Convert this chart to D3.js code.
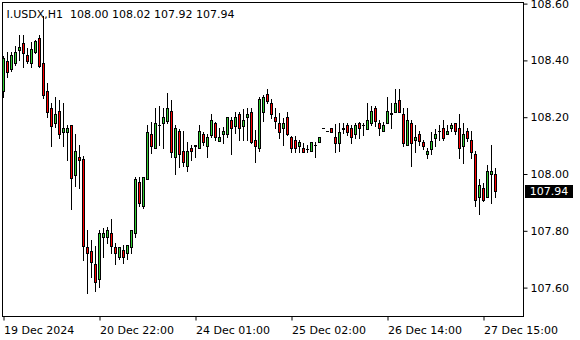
<!DOCTYPE html>
<html>
<head>
<meta charset="utf-8">
<script src="https://cdn.jsdelivr.net/npm/d3@7"></script>
<style>
  body { margin: 0; background: #fff; }
  svg { display: block; font-family: "DejaVu Sans", sans-serif; font-size: 11px; }
</style>
</head>
<body>
<svg id="chart" width="580" height="340"></svg>
<script>
// I.USDX H1, one value per bar (oldest first)
const titulo = "I.USDX,H1";
const abertura = [
  108.292,108.398,108.370,108.391,108.437,108.461,108.419,108.391,108.430,108.479,
  108.391,108.292,108.232,108.180,108.222,108.149,108.149,108.173,107.996,108.060,
  108.053,107.743,107.729,107.683,107.630,107.779,107.779,107.792,107.743,107.709,
  107.732,107.722,107.743,107.792,107.972,107.888,107.982,108.141,108.092,108.171,
  108.180,108.187,108.222,108.060,108.151,108.081,108.029,108.092,108.101,108.092,
  108.141,108.099,108.137,108.180,108.117,108.141,108.141,108.190,108.170,108.211,
  108.170,108.201,108.219,108.120,108.092,108.219,108.281,108.250,108.201,108.181,
  108.162,108.201,108.129,108.120,108.099,108.090,108.088,108.081,108.102,108.113,
  108.161,108.150,108.161,108.130,108.109,108.161,108.173,108.161,108.141,108.181,
  108.173,108.158,108.180,108.231,108.181,108.151,108.180,108.214,108.219,108.261,
  108.211,108.102,108.180,108.120,108.140,108.112,108.069,108.088,108.128,108.151,
  108.161,108.140,108.161,108.178,108.161,108.099,108.151,108.120,108.069,107.920,
  107.950,107.920,107.999,108.000
];
const maxima = [
  108.416,108.430,108.430,108.451,108.490,108.490,108.444,108.465,108.472,108.490,
  108.556,108.320,108.250,108.271,108.261,108.250,108.173,108.173,108.141,108.102,
  108.063,107.803,107.768,107.746,107.803,107.810,107.813,107.842,107.757,107.743,
  107.750,107.750,107.803,107.989,107.989,107.989,108.173,108.183,108.232,108.240,
  108.232,108.285,108.261,108.173,108.158,108.151,108.113,108.102,108.102,108.173,
  108.148,108.141,108.211,108.183,108.162,108.165,108.201,108.201,108.218,108.218,
  108.229,108.232,108.232,108.155,108.271,108.278,108.299,108.264,108.232,108.215,
  108.197,108.218,108.134,108.134,108.120,108.109,108.102,108.113,108.113,108.130,
  108.161,108.150,108.162,108.176,108.180,108.180,108.180,108.173,108.180,108.183,
  108.180,108.250,108.240,108.240,108.190,108.183,108.271,108.250,108.299,108.299,
  108.232,108.232,108.190,108.173,108.151,108.120,108.092,108.148,108.158,108.173,
  108.190,108.173,108.180,108.180,108.211,108.180,108.162,108.151,108.081,107.982,
  107.968,108.032,108.102,108.020
];
const minima = [
  108.271,108.342,108.363,108.384,108.401,108.377,108.391,108.377,108.426,108.377,
  108.268,108.201,108.099,108.165,108.127,108.099,108.049,107.877,107.958,107.951,
  107.697,107.581,107.637,107.588,107.602,107.708,107.757,107.722,107.683,107.701,
  107.688,107.701,107.722,107.778,107.887,107.880,107.982,108.074,108.092,108.102,
  108.092,108.180,108.060,108.000,108.025,108.028,108.011,108.049,108.060,108.092,
  108.102,108.060,108.130,108.120,108.116,108.109,108.130,108.070,108.144,108.120,
  108.120,108.120,108.109,108.042,108.081,108.187,108.250,108.197,108.162,108.127,
  108.102,108.137,108.077,108.077,108.077,108.077,108.077,108.081,108.060,108.113,
  108.161,108.150,108.148,108.077,108.081,108.144,108.137,108.109,108.127,108.127,
  108.137,108.158,108.173,108.169,108.137,108.151,108.180,108.162,108.218,108.218,
  108.099,108.102,108.028,108.077,108.102,108.088,108.056,108.070,108.099,108.120,
  108.120,108.140,108.151,108.141,108.056,108.039,108.116,108.056,107.887,107.859,
  107.905,107.919,107.898,107.920
];
const fechamento = [
  108.408,108.359,108.419,108.430,108.447,108.426,108.398,108.440,108.468,108.380,
  108.278,108.218,108.169,108.211,108.141,108.161,108.161,107.987,108.081,108.049,
  107.746,107.722,107.690,107.620,107.792,107.791,107.803,107.746,107.722,107.742,
  107.709,107.750,107.803,107.982,107.898,107.988,108.148,108.099,108.180,108.174,
  108.201,108.232,108.077,108.162,108.070,108.042,108.081,108.081,108.100,108.151,
  108.113,108.129,108.190,108.130,108.129,108.151,108.201,108.162,108.200,108.162,
  108.190,108.211,108.112,108.099,108.264,108.270,108.258,108.211,108.187,108.149,
  108.180,108.141,108.090,108.090,108.114,108.079,108.087,108.112,108.101,108.130,
  108.161,108.150,108.149,108.110,108.148,108.160,108.149,108.129,108.173,108.161,
  108.172,108.190,108.222,108.188,108.161,108.173,108.222,108.213,108.251,108.219,
  108.110,108.190,108.110,108.130,108.117,108.099,108.081,108.117,108.140,108.150,
  108.128,108.151,108.173,108.151,108.090,108.140,108.128,108.079,107.908,107.961,
  107.908,108.011,108.011,107.940
];
const precoTicks = [108.60, 108.40, 108.20, 108.00, 107.80, 107.60];
const tempoTicks = [0, 24, 48, 72, 96, 120];
const tempoLabels = ["19 Dec 2024", "20 Dec 22:00", "24 Dec 01:00", "25 Dec 02:00", "26 Dec 14:00", "27 Dec 15:00"];

const corAlta = "#32cd32";
const corBaixa = "#ff0000";

const svg = d3.select("#chart");
const plot = { left: 2, right: 523, top: 2, bottom: 316 };

const x = d3.scaleLinear().domain([0, 130]).range([3, 523]);
const y = d3.scaleLinear().domain([107.60, 108.60]).range([287.6, 3.6]);

const velas = abertura.map((o, i) => ({
  i: i,
  o: o,
  h: maxima[i],
  l: minima[i],
  c: fechamento[i]
}));

// moldura
svg.append("rect")
  .attr("x", plot.left + 0.5)
  .attr("y", plot.top + 0.5)
  .attr("width", plot.right - plot.left)
  .attr("height", plot.bottom - plot.top)
  .attr("fill", "none")
  .attr("stroke", "#000");

const g = svg.append("g").attr("shape-rendering", "crispEdges");

const vela = g.selectAll(".vela")
  .data(velas)
  .enter()
  .append("g")
  .attr("class", "vela");

// pavio
vela.append("rect")
  .attr("x", (d) => Math.round(x(d.i)))
  .attr("y", (d) => Math.round(y(d.h)))
  .attr("width", 1)
  .attr("height", (d) => Math.round(y(d.l)) - Math.round(y(d.h)) + 1)
  .attr("fill", "#000");

// corpo
vela.append("rect")
  .attr("x", (d) => Math.round(x(d.i)) - 1)
  .attr("y", (d) => Math.round(y(Math.max(d.o, d.c))))
  .attr("width", 3)
  .attr("height", (d) => Math.round(y(Math.min(d.o, d.c))) - Math.round(y(Math.max(d.o, d.c))) + 1)
  .attr("fill", "#000");

vela.filter((d) => Math.round(y(Math.min(d.o, d.c))) - Math.round(y(Math.max(d.o, d.c))) > 1)
  .append("rect")
  .attr("x", (d) => Math.round(x(d.i)))
  .attr("y", (d) => Math.round(y(Math.max(d.o, d.c))) + 1)
  .attr("width", 1)
  .attr("height", (d) => Math.round(y(Math.min(d.o, d.c))) - Math.round(y(Math.max(d.o, d.c))) - 1)
  .attr("fill", (d) => (d.c > d.o ? corAlta : corBaixa));

// eixo de preços
const yAxis = d3.axisRight(y)
  .tickValues(precoTicks)
  .tickSize(4)
  .tickPadding(3)
  .tickFormat((d) => d.toFixed(2));

svg.append("g")
  .attr("transform", `translate(${plot.right + 0.5},0)`)
  .call(yAxis)
  .call((a) => a.select(".domain").remove())
  .call((a) => a.selectAll("text").attr("fill", "#000").style("font-size", "11px").style("font-family", "DejaVu Sans"));

// eixo de tempo
const xAxis = d3.axisBottom(x)
  .tickValues(tempoTicks)
  .tickSize(4)
  .tickFormat((d, i) => tempoLabels[i]);

svg.append("g")
  .attr("transform", `translate(0.5,${plot.bottom + 0.5})`)
  .call(xAxis)
  .call((a) => a.select(".domain").remove())
  .call((a) => a.selectAll("text")
    .attr("y", 10)
    .attr("text-anchor", "start")
    .attr("fill", "#000")
    .style("font-size", "11px")
    .style("font-family", "DejaVu Sans"));

// preço atual
const ultimo = velas[velas.length - 1];
svg.append("rect")
  .attr("x", plot.right + 2)
  .attr("y", Math.round(y(ultimo.c)) - 6)
  .attr("width", 48)
  .attr("height", 13)
  .attr("fill", "#000");

svg.append("text")
  .attr("x", plot.right + 26)
  .attr("y", y(ultimo.c))
  .attr("dy", "0.35em")
  .attr("text-anchor", "middle")
  .attr("fill", "#fff")
  .text(ultimo.c.toFixed(2));

// titulo
svg.append("text")
  .attr("x", 6.5)
  .attr("y", 18)
  .attr("fill", "#000")
  .style("white-space", "pre")
  .text(`${titulo}  ${ultimo.o.toFixed(2)} ${ultimo.h.toFixed(2)} ${ultimo.l.toFixed(2)} ${ultimo.c.toFixed(2)}`);
</script>
</body>
</html>
